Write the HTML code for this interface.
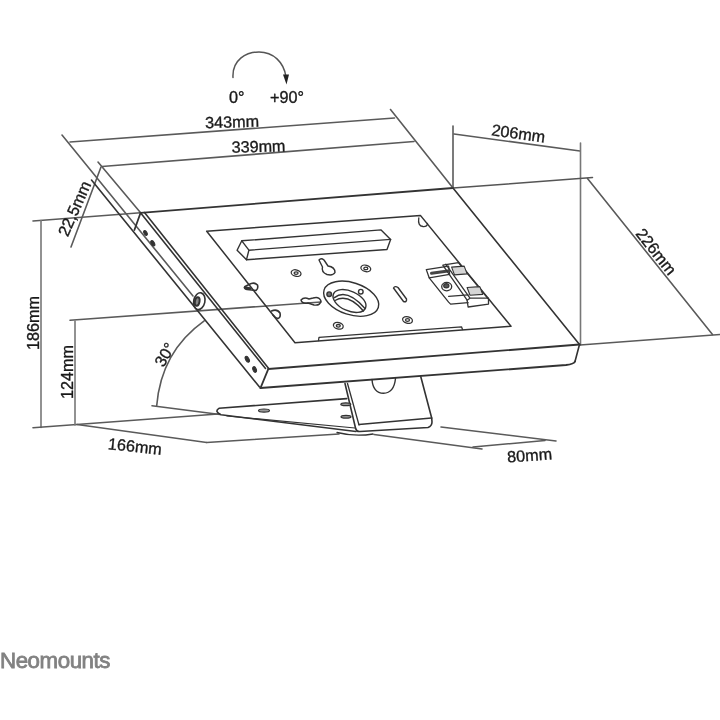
<!DOCTYPE html>
<html><head><meta charset="utf-8">
<style>
html,body{margin:0;padding:0;background:#fff;width:720px;height:720px;overflow:hidden}
svg{position:absolute;left:0;top:0;filter:blur(0.3px)}
text{font-family:"Liberation Sans",sans-serif;fill:#1a1a1a}
</style></head><body>
<svg width="720" height="720" viewBox="0 0 720 720">
<!-- ===== dimension lines ===== -->
<g fill="none" stroke="#5a5a5a" stroke-width="1.6" stroke-linecap="round" stroke-linejoin="round">
<!-- rotation arrow -->
<path d="M233 77.5 C232 60 246 52 259 52 C273 52 284 62 286 77" stroke="#555" stroke-width="1.5"/>
<!-- 343 / 339 -->
<line x1="70" y1="142" x2="394.5" y2="118"/>
<line x1="102" y1="166.5" x2="414" y2="141.5"/>
<line x1="62" y1="135" x2="193" y2="296"/>
<line x1="98" y1="162" x2="140.6" y2="212.8"/>
<line x1="390.5" y1="109.5" x2="453" y2="188"/>
<!-- 206 -->
<line x1="453" y1="126" x2="453" y2="188"/>
<line x1="454" y1="134" x2="580" y2="151"/>
<line x1="580.5" y1="143" x2="580.5" y2="345" stroke="#777"/>
<!-- 226 -->
<line x1="587.5" y1="178.5" x2="712.5" y2="334.5"/>
<line x1="580" y1="345" x2="720" y2="334.5"/>
<!-- 22.5 -->
<line x1="101" y1="167" x2="71" y2="247"/>
<!-- 186 -->
<line x1="33" y1="221" x2="140.6" y2="212.8"/>
<line x1="41" y1="220.5" x2="41" y2="427.5" stroke="#777"/>
<line x1="33" y1="427.7" x2="218" y2="414"/>
<!-- 124 -->
<line x1="70" y1="320.2" x2="321" y2="302"/>
<line x1="75" y1="321" x2="75" y2="425" stroke="#777"/>
<!-- 30 deg arc -->
<path d="M204.2 320.8 C180 338 160 365 156.7 405.8"/>
<line x1="152" y1="405.8" x2="220" y2="414.5"/>
<!-- 166 -->
<line x1="77" y1="424.5" x2="206.7" y2="442.5"/>
<line x1="206.7" y1="442.5" x2="339" y2="434"/>
<!-- 80 -->
<line x1="374" y1="434.5" x2="482" y2="449"/>
<line x1="441" y1="427" x2="556" y2="441"/>
<line x1="473" y1="447" x2="545" y2="440.5"/>
</g>
<polygon points="283,74.5 289,74.5 286.5,84.5" fill="#222"/>

<!-- ===== device ===== -->
<g fill="none" stroke="#333" stroke-width="1.6" stroke-linecap="round" stroke-linejoin="round">
<!-- top surface -->
<line x1="140.6" y1="212.8" x2="453" y2="188" stroke-width="1.8"/>
<line x1="453" y1="188" x2="592.5" y2="177.5" stroke="#555" stroke-width="1.5"/>
<line x1="453" y1="188" x2="579.5" y2="344.5"/>
<line x1="140.5" y1="212.8" x2="265.5" y2="368.5"/>
<line x1="144.5" y1="212.5" x2="268.5" y2="368.2"/>
<line x1="268.3" y1="369" x2="579.5" y2="344.5" stroke-width="1.9"/>
<!-- side face lower edge -->
<line x1="91.5" y1="180" x2="259.5" y2="387"/>
<!-- front face -->
<path d="M260.5 388 L566 365 Q574 364 575 361.5" stroke-width="1.9"/>
<line x1="268.3" y1="369" x2="260.5" y2="388" stroke-width="1.9"/>
<line x1="579.5" y1="344.5" x2="575" y2="361.5"/>
<!-- side face -->
<line x1="140.6" y1="212.8" x2="134.4" y2="230" stroke-width="1.8"/>
<ellipse cx="247.3" cy="359.3" rx="1.7" ry="3.2" transform="rotate(-30 247.3 359.3)" fill="#333" stroke-width="1"/>
<ellipse cx="254.6" cy="369.5" rx="1.7" ry="3" transform="rotate(-20 254.6 369.5)" fill="#333" stroke-width="1"/>
<ellipse cx="145.5" cy="233" rx="1.5" ry="2.6" transform="rotate(-30 145.5 233)" fill="#333" stroke-width="1"/>
<ellipse cx="152.8" cy="243.3" rx="1.6" ry="3" transform="rotate(-30 152.8 243.3)" fill="#333" stroke-width="1"/>
<!-- washer -->
<ellipse cx="199.3" cy="301.2" rx="5.6" ry="8.5" transform="rotate(12 199.3 301.2)"/>
<ellipse cx="197.2" cy="301.5" rx="2.3" ry="4.3" transform="rotate(10 197.2 301.5)" stroke-width="2" fill="#888"/>

<!-- recess -->
<path d="M206.7 231.2 L420.4 215.4 L511 326.3 L295 342.8 Z" stroke-width="1.5"/>
<path d="M418.8 218 Q417.5 226 423 226.5 Q427.5 226.8 427.5 223.5" stroke-width="1.3"/>
<path d="M318.5 340.5 L319 337.3 L461.5 326.8 L462.5 329.5" stroke-width="1.3"/>
<path d="M249 284.5 Q254 281.5 257.5 285 Q258.5 289 256 290.5 L247 289.5 Q243.5 288.5 245 286.5 Z" stroke-width="1.6"/>
<path d="M245 287.5 L250 288.5" stroke-width="2.6"/>
<path d="M271.5 311 Q277 308.5 280 313 Q281 317.5 278 318.5 Q275 318 273 315" stroke-width="1.6"/>
<!-- bar -->
<g stroke-width="1.4">
<path d="M241.8 240.8 L381.1 229.9 L390.6 239.4 L387 249.5 L246.5 259.7 L237.1 250.2 Z"/>
<path d="M241.8 240.8 L248.9 250.2 L246.5 259.7 M248.9 250.2 L390.6 239.4"/>
</g>
<!-- ring -->
<g stroke-width="1.4">
<ellipse cx="351.2" cy="298.7" rx="28.5" ry="16" transform="rotate(18 351.2 298.7)"/>
<ellipse cx="349.5" cy="301" rx="17.5" ry="9.8" transform="rotate(24 349.5 301)"/>
<path d="M334.4 297.6 Q347 288 365 308.5"/>
<path d="M335 300.5 Q348 293 363.5 311"/>
<circle cx="329.2" cy="294.2" r="2.3" fill="#777"/>
<circle cx="360.8" cy="291.7" r="2.3"/>
<!-- slot -->
<path d="M393.5 288 Q395 285.5 398 287.5 L406.5 299 Q407 302.5 403.5 301.5 Z"/>
<!-- keyholes -->
<path d="M319 260 Q321 257.5 324 260 L328 266 Q335 267 335 272.5 Q333 276 327 274.5 Q321 272 322.5 267 Z"/>
<path d="M301 300 Q304 296.5 309 299 L313 298 Q319 296 321 301 Q320 306 314 305 L308 303 Q302 304 301 300 Z"/>
</g>
<!-- screws -->
<g stroke-width="1.3">
<ellipse cx="296.1" cy="273.1" rx="5" ry="3.2" transform="rotate(15 296.1 273.1)"/>
<ellipse cx="296.1" cy="273.1" rx="2" ry="1.3"/>
<ellipse cx="365.8" cy="268.4" rx="5" ry="3.2" transform="rotate(15 365.8 268.4)"/>
<ellipse cx="365.8" cy="268.4" rx="2" ry="1.3"/>
<ellipse cx="407.5" cy="320" rx="5" ry="3.2" transform="rotate(15 407.5 320)"/>
<ellipse cx="407.5" cy="320" rx="2" ry="1.3"/>
<ellipse cx="338.3" cy="325.8" rx="5" ry="3.2" transform="rotate(15 338.3 325.8)"/>
<ellipse cx="338.3" cy="325.8" rx="2" ry="1.3"/>
</g>
<!-- clamp -->
<g stroke-width="1.3">
<path d="M426.3 269.6 L448.6 266.1 L449.6 274.3 L429.2 277.8 Z"/>
<path d="M431.5 273.3 L448 271" stroke-width="3" stroke="#444"/>
<path d="M429.2 277.8 L448.6 302.1 L450.6 304.1 L468.1 302.7"/>
<path d="M448.6 296.3 L468.1 294.9"/>
<path d="M442.8 265.2 L458.4 262.6 L488.5 299.2 L488.5 304.1 L468.1 307 L467.1 300.2 L442.8 265.2 Z"/>
<path d="M445.7 264.2 L470 298.2 L488.5 298.2 M467.1 300.2 L470 298.2"/>
<path d="M451.6 267.1 L464.2 266.1 L467.1 273.9 L454.5 274.9 Z" fill="#d5d5d5" stroke-width="1.1"/>
<path d="M467.1 287.5 L479.8 286.6 L482.7 294.4 L470 295.3 Z" fill="#d5d5d5" stroke-width="1.1"/>
<ellipse cx="446.7" cy="286.6" rx="5" ry="4.2"/>
<ellipse cx="446.3" cy="285.8" rx="2.6" ry="2.1" fill="#555" stroke-width="1.2"/>
</g>

<!-- stand neck -->
<path d="M345 383.5 L355.5 428 Q356.5 432 360 431.5 L428 427.5 Q432 426 432 422 L431.7 418"/>
<line x1="347.5" y1="383.5" x2="359" y2="425" stroke-width="1.3"/>
<line x1="359" y1="424.5" x2="431.5" y2="418" stroke-width="1.3"/>
<path d="M420.8 376.7 L431.7 418"/>
<path d="M372 379.5 Q373 393 383.5 393.3 Q394 393 395.5 378.5" stroke-width="1.4"/>
<!-- base -->
<path d="M346.7 398.6 L219 408.3 Q214 411.5 221 414.8 L356 431.5"/>
<path d="M227 416 L355 428" stroke-width="1.2"/>
<ellipse cx="264" cy="410.6" rx="5.5" ry="1.6" stroke-width="1.2" fill="#999"/>
<ellipse cx="345.8" cy="404.2" rx="5" ry="1.4" stroke-width="1.2" fill="#999"/>
<ellipse cx="346" cy="416.7" rx="5" ry="1.4" stroke-width="1.2" fill="#999"/>
<path d="M337 432.5 Q355 437 373 434" stroke-width="1.3"/>
</g>

<g font-size="16.2" style="stroke:#1a1a1a;stroke-width:0.35">
<text x="229" y="102.5">0°</text>
<text x="270" y="102.5">+90°</text>
<text x="205" y="127.5" transform="rotate(-1.5 231 122)">343mm</text>
<text x="231.5" y="152" transform="rotate(-1.5 258 147)">339mm</text>
<text x="491.5" y="139" transform="rotate(8 518.5 133)">206mm</text>
<text x="108" y="452" transform="rotate(6 135 446)">166mm</text>
<text x="507" y="461" transform="rotate(-4 529 455)">80mm</text>
<text x="0" y="0" transform="translate(38.5 350) rotate(-90)">186mm</text>
<text x="0" y="0" transform="translate(72.5 399) rotate(-90)">124mm</text>
<text x="0" y="0" transform="translate(67.7 237.6) rotate(-66)">22,5mm</text>
<text x="0" y="0" transform="translate(163.5 368) rotate(-60)">30°</text>
<text x="0" y="0" transform="translate(635 234) rotate(51.5)">226mm</text>
</g>
<text x="0" y="668" font-size="22.3" letter-spacing="-0.45" style="fill:#828282;stroke:#828282;stroke-width:0.8">Neomounts</text>
</svg>
</body></html>
